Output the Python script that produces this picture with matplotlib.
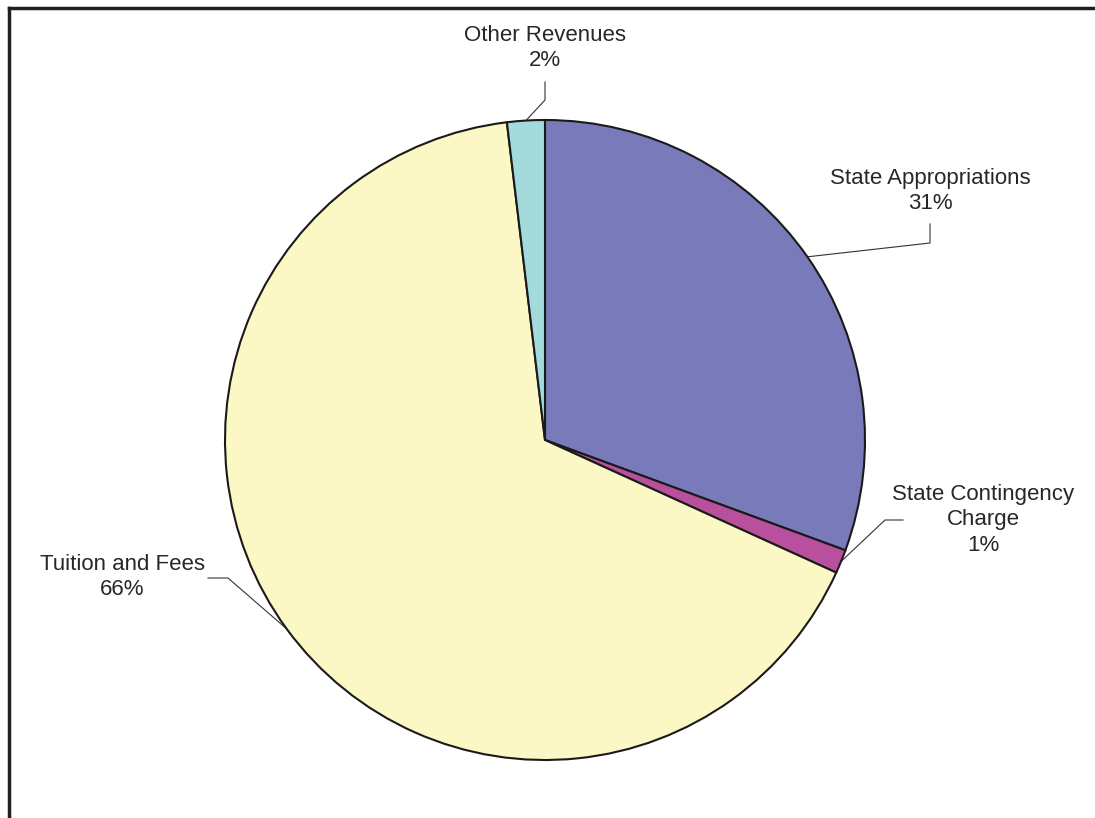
import numpy as np
import matplotlib.pyplot as plt

plt.rcParams["font.family"] = ["Liberation Sans", "DejaVu Sans"]

categories = ["State Appropriations", "State Contingency\nCharge", "Tuition and Fees", "Other Revenues"]
shares = [30.6, 1.2, 66.3, 1.9]
colors = ["#787ABA", "#B8509E", "#FBF8C5", "#A3DADB"]

W, H = 1095, 818
CX, CY, R = 545, H - 440, 320

# label text centre and elbow of the leader line (pixels, y down), per slice
label_pos = [(930, 191), (983, 520), (122, 577), (545, 48)]
elbows = [[(930, 224), (930, 243)], [(903, 520), (885, 520)],
          [(208, 578), (228, 578)], [(545, 82), (545, 100)]]

fig = plt.figure(figsize=(W / 100, H / 100), dpi=100)
ax = fig.add_axes([0, 0, 1, 1])

wedges, _ = ax.pie(shares, colors=colors, startangle=90, counterclock=False,
                   center=(CX, CY), radius=R, frame=True,
                   wedgeprops=dict(edgecolor="#1a1a1a", linewidth=1.5))
ax.set_xlim(0, W)
ax.set_ylim(0, H)
ax.set_aspect("equal")
ax.axis("off")

for w, name, val, (tx, ty), el in zip(wedges, categories, shares, label_pos, elbows):
    mid = np.deg2rad((w.theta1 + w.theta2) / 2)
    px, py = CX + R * np.cos(mid), CY + R * np.sin(mid)
    xs = [p[0] for p in el] + [px]
    ys = [H - p[1] for p in el] + [py]
    ax.plot(xs, ys, color="#333333", lw=0.8, zorder=0.5)
    ax.text(tx, H - ty, f"{name}\n{val:.0f}%", ha="center", va="center",
            fontsize=16, color="#2a2627", linespacing=1.3)

# partial frame: top and left edges
ax.plot([9, W], [H - 8, H - 8], color="#231f20", lw=2.5, clip_on=False)
ax.plot([9, 9], [0, H - 8], color="#231f20", lw=2.5, clip_on=False)

fig.savefig("out.png", dpi=100)
